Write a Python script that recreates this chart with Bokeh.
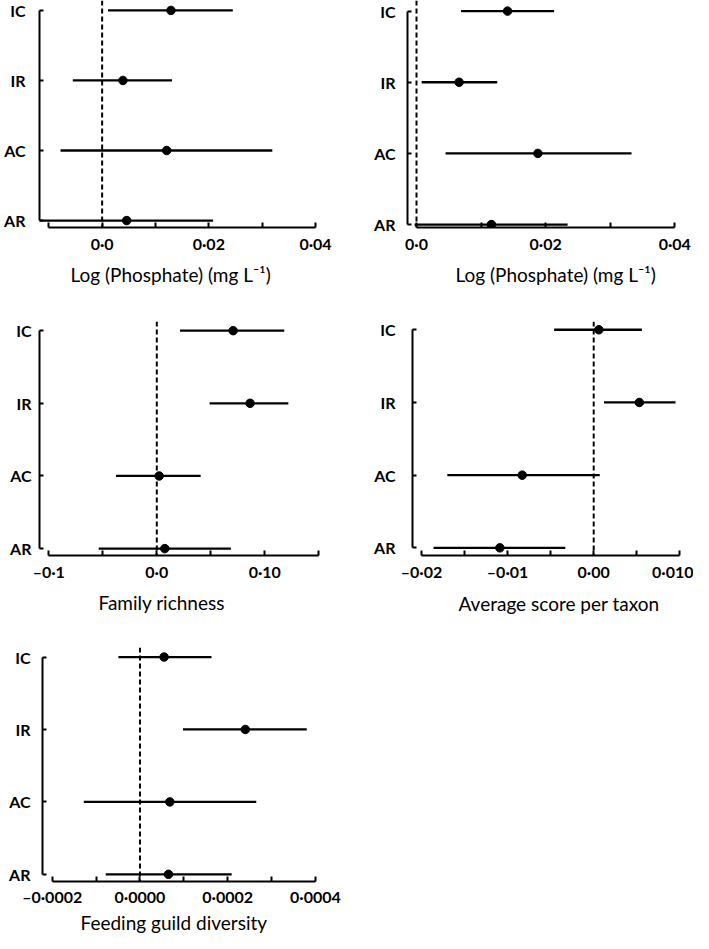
from bokeh.plotting import figure
from bokeh.models import Span, Title, FixedTicker, CustomJSTickFormatter, Range1d
from bokeh.layouts import column, row
from bokeh.embed import file_html
from bokeh.resources import INLINE

# ---------------- data ----------------
categories = ["IC", "IR", "AC", "AR"]

# Panel A: Log (Phosphate), left
a_est = [0.0129, 0.0039, 0.0121, 0.0046]
a_lo = [0.0011, -0.0055, -0.0078, -0.0118]
a_hi = [0.0245, 0.0131, 0.0319, 0.0208]
a_ticks = [-0.01, 0.0, 0.01, 0.02, 0.03, 0.04]
a_labels = ["", "0·0", "", "0·02", "", "0·04"]
a_title = "Log (Phosphate) (mg L⁻¹)"

# Panel B: Log (Phosphate), right
b_est = [0.0141, 0.0066, 0.0188, 0.0116]
b_lo = [0.0069, 0.0008, 0.0045, -0.0003]
b_hi = [0.0213, 0.0125, 0.0333, 0.0234]
b_ticks = [0.0, 0.01, 0.02, 0.03, 0.04]
b_labels = ["0·0", "", "0·02", "", "0·04"]
b_title = "Log (Phosphate) (mg L⁻¹)"

# Panel C: Family richness
c_est = [0.0707, 0.0864, 0.0022, 0.0074]
c_lo = [0.0215, 0.0489, -0.0378, -0.0538]
c_hi = [0.1180, 0.1218, 0.0406, 0.0686]
c_ticks = [-0.1, -0.05, 0.0, 0.05, 0.10, 0.15]
c_labels = ["–0·1", "", "0·0", "", "0·10", ""]
c_title = "Family richness"

# Panel D: Average score per taxon
d_est = [0.0006, 0.0053, -0.0083, -0.0109]
d_lo = [-0.0046, 0.0012, -0.0170, -0.0186]
d_hi = [0.0056, 0.0095, 0.0007, -0.0033]
d_ticks = [-0.02, -0.015, -0.01, -0.005, 0.0, 0.005, 0.01]
d_labels = ["–0·02", "", "–0·01", "", "0·00", "", "0·010"]
d_title = "Average score per taxon"

# Panel E: Feeding guild diversity
e_est = [0.000055, 0.000240, 0.000068, 0.000065]
e_lo = [-0.000049, 0.000098, -0.000128, -0.000078]
e_hi = [0.000163, 0.000380, 0.000265, 0.000209]
e_ticks = [-0.0002, -0.0001, 0.0, 0.0001, 0.0002, 0.0003, 0.0004]
e_labels = ["–0·0002", "", "0·0000", "", "0·0002", "", "0·0004"]
e_title = "Feeding guild diversity"

FONT = "Lato"


def make_panel(est, lo, hi, ticks, labels, title,
               fig_box, frame_box, xcal, ycal, title_left, title_standoff, ystand,
               xstand=6):
    fx, fy, fw, fh = fig_box
    l_px, t_px, r_px, b_px = frame_box
    bl = round(l_px - fx)
    bt = round(t_px - fy)
    br = round(fx + fw - r_px)
    bb = round(fy + fh - b_px)
    FL, FR = fx + bl, fx + fw - br
    FT, FB = fy + bt, fy + fh - bb

    v0, p0, v1, p1 = xcal
    k = (v1 - v0) / (p1 - p0)
    x_start = v0 + (FL - p0) * k
    x_end = v0 + (FR - p0) * k

    n = len(categories)
    ic_px, ar_px = ycal
    ky = (n - 1) / (ar_px - ic_px)
    y_start = -(FB - ar_px) * ky
    y_end = (n - 1) + (ic_px - FT) * ky

    ypos = [n - 1 - i for i in range(n)]

    p = figure(width=fw, height=fh, output_backend="svg", toolbar_location=None,
               x_range=Range1d(x_start, x_end), y_range=Range1d(y_start, y_end),
               min_border_left=bl, min_border_right=br,
               min_border_top=bt, min_border_bottom=bb)
    p.outline_line_color = None
    p.xgrid.visible = False
    p.ygrid.visible = False
    p.background_fill_color = "white"
    p.border_fill_color = "white"

    # x axis
    xa = p.xaxis[0]
    xa.ticker = FixedTicker(ticks=ticks, minor_ticks=[])
    xa.formatter = CustomJSTickFormatter(args=dict(labels=labels),
                                         code="return labels[index];")
    xa.bounds = (ticks[0], ticks[-1])
    xa.axis_line_width = 2
    xa.axis_line_color = "black"
    xa.major_tick_line_width = 2
    xa.major_tick_in = 5
    xa.major_tick_out = 0
    xa.minor_tick_line_color = None
    xa.major_label_text_font = FONT
    xa.major_label_text_font_style = "bold"
    xa.major_label_text_font_size = "16px"
    xa.major_label_text_color = "black"
    xa.major_label_standoff = xstand

    # y axis
    ya = p.yaxis[0]
    ya.ticker = FixedTicker(ticks=ypos, minor_ticks=[])
    ya.major_label_overrides = {ypos[i]: categories[i] for i in range(n)}
    ya.bounds = (0, n - 1)
    ya.axis_line_width = 2
    ya.axis_line_color = "black"
    ya.major_tick_line_width = 2
    ya.major_tick_in = 4
    ya.major_tick_out = 0
    ya.minor_tick_line_color = None
    ya.major_label_text_font = FONT
    ya.major_label_text_font_style = "bold"
    ya.major_label_text_font_size = "16px"
    ya.major_label_text_color = "black"
    ya.major_label_standoff = ystand

    # zero line
    p.add_layout(Span(location=0, dimension="height", line_color="black",
                      line_width=2, line_dash="5 3"))

    # CIs and estimates
    p.segment(x0=lo, y0=ypos, x1=hi, y1=ypos, line_color="black", line_width=2.3)
    p.scatter(x=est, y=ypos, size=8.5, color="black")

    # x-axis title below the axis
    t = Title(text=title, align="left", offset=title_left - FL,
              text_font=FONT, text_font_size="19px", text_font_style="normal",
              text_color="black", standoff=title_standoff)
    p.add_layout(t, "below")
    return p


pA = make_panel(a_est, a_lo, a_hi, a_ticks, a_labels, a_title,
                (0, 0, 354, 290), (39, 0, 316, 229),
                (-0.01, 48.3, 0.04, 315.0), (10.0, 222.0), 70, 10, 14)
pB = make_panel(b_est, b_lo, b_hi, b_ticks, b_labels, b_title,
                (354, 0, 339, 290), (407, 0, 676, 229),
                (0.0, 416.0, 0.04, 674.3), (10.7, 226.0), 455, 10, 12)
pC = make_panel(c_est, c_lo, c_hi, c_ticks, c_labels, c_title,
                (0, 290, 354, 330), (39, 319, 320, 557),
                (-0.1, 48.3, 0.10, 264.3), (328.3, 550.0), 98, 11, 8)
pD = make_panel(d_est, d_lo, d_hi, d_ticks, d_labels, d_title,
                (354, 290, 339, 330), (412, 321, 680, 556),
                (-0.02, 421.0, 0.01, 679.3), (329.3, 548.3), 458, 12, 17)
pE = make_panel(e_est, e_lo, e_hi, e_ticks, e_labels, e_title,
                (0, 620, 354, 313), (42, 647, 316, 885),
                (-0.0002, 51.7, 0.0004, 315.0), (656.7, 877.7), 80, 0, 12, 5)

layout = column(row(pA, pB), row(pC, pD), row(pE))

open("out.html", "w").write(file_html(layout, INLINE))
